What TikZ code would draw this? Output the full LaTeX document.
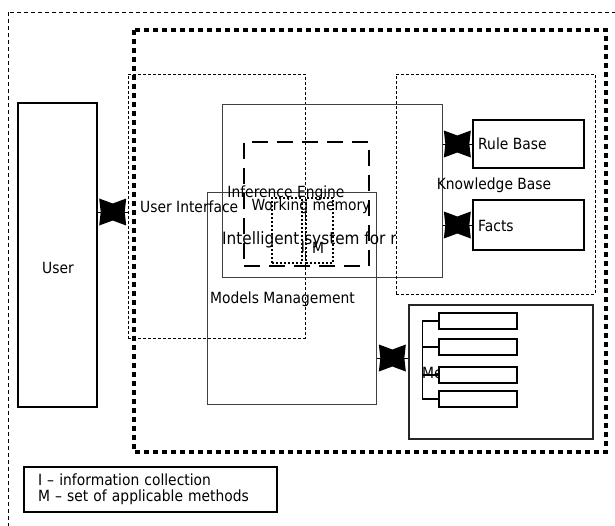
\documentclass[tikz,border=0pt]{standalone}
\usepackage{fontspec}
\setmainfont[FakeStretch=0.9]{DejaVu Sans}
\usetikzlibrary{calc}

\tikzstyle{outer} = [draw, line width=0.6pt, dash pattern=on 4pt off 3pt]
\tikzstyle{system} = [draw, line width=3.5pt, dash pattern=on 5pt off 4pt]
\tikzstyle{part} = [draw, line width=0.8pt, dash pattern=on 3pt off 2pt]
\tikzstyle{engine} = [draw=black!75, line width=1pt]
\tikzstyle{store} = [draw, line width=1.6pt]
\tikzstyle{memory} = [draw, line width=1.8pt, dash pattern=on 16pt off 9pt]
\tikzstyle{cell} = [draw, line width=1.8pt, dash pattern=on 2pt off 2pt]
\tikzstyle{slot} = [draw, line width=1.6pt, fill=white, minimum width=78, minimum height=16]
\tikzstyle{link} = [draw, line width=0.8pt]
\tikzstyle{bowtie} = [minimum width=27, minimum height=27, path picture={
  \fill (path picture bounding box.north west) -- ([yshift=-5pt]path picture bounding box.north)
    -- (path picture bounding box.north east) -- ([xshift=-1.5pt]path picture bounding box.east)
    -- (path picture bounding box.south east) -- ([yshift=5pt]path picture bounding box.south)
    -- (path picture bounding box.south west) -- ([xshift=1.5pt]path picture bounding box.west) -- cycle;}]

\begin{document}
\begin{tikzpicture}[x=1pt,y=-1pt,inner sep=0pt,font=\fontsize{15.4}{16}\selectfont]
		\useasboundingbox (0,0) rectangle (615,525);
		\fill[white] (0,0) rectangle (615,525);
		
		%frames
		\draw[outer] (8,12) rectangle (640,545);
		\draw[system] (134,30) rectangle (606,452);
		
		%boxes
		\node[store, minimum width=79, minimum height=304](user) at (57.5,255) {};
		\node[part, minimum width=177, minimum height=264](ui) at (216.5,206) {};
		\node[engine, minimum width=220, minimum height=173](ie) at (332,190.5) {};
		\node[part, minimum width=199, minimum height=220](kb) at (495.5,184) {};
		\node[store, minimum width=111, minimum height=48](rules) at (528.5,144) {};
		\node[store, minimum width=111, minimum height=50](facts) at (528.5,225) {};
		\node[memory, minimum width=125, minimum height=124](wm) at (306.5,204) {};
		\node[cell, minimum width=30, minimum height=65](info) at (287,230.5) {};
		\node[cell, minimum width=27, minimum height=65](meth) at (319.5,230.5) {};
		\node[engine, minimum width=169, minimum height=212](mm) at (291.5,298) {};
		\node[store, draw=black!85, minimum width=184, minimum height=134](methods) at (501,372) {};
		
		%labels
		\node(userlab) at (58,268) {User};
		\node[anchor=west](uilab) at (140,207) {User Interface};
		\node(ielab) at (286,193) {Inference Engine};
		\node(wmlab) at (311,206) {Working memory};
		\node(kblab) at (494,185) {Knowledge Base};
		\node[anchor=west](ruleslab) at (478,144) {Rule Base};
		\node[anchor=west](factslab) at (478,226) {Facts};
		\node[anchor=west](mmlab) at (210,299) {Models Management};
		\node[anchor=west](methlab) at (422,373) {Methods};
		\node(infolab) at (303,247) {I};
		\node(methodlab) at (318,248) {M};
		\begin{scope}
		\clip (222,225) rectangle (395,258);
		\node[anchor=west, font=\fontsize{17}{19}\selectfont](title) at (222,240) {Intelligent system for r};
		\end{scope}
		
		%method slots
		\foreach \y [count=\i] in {321,347,375,399}
			\node[slot](slot\i) at (478,\y) {};
		\coordinate (trunk) at ($(slot1.west)+(-16,0)$);
		\draw[link, line width=1.2pt] (slot1.west) -- (trunk) |- (slot4.west);
		\draw[link, line width=1.2pt] (slot2.west) -- (slot2.west -| trunk);
		\draw[link, line width=1.2pt] (slot3.west) -- (slot3.west -| trunk);
		
		%connectors
		\draw[link] ([yshift=-6pt]ui.west) -- node[bowtie]{} ([yshift=-6pt]ui.west -| user.east);
		\draw[link] (ie.east |- rules.west) -- node[bowtie]{} (rules.west);
		\draw[link] (ie.east |- facts.west) -- node[bowtie]{} (facts.west);
		\draw[link] ([yshift=14pt]methods.west) -- node[bowtie]{} ([yshift=14pt]methods.west -| mm.east);
		
		%legend
		\node[draw, line width=1.2pt, minimum width=253, minimum height=45, text width=225, align=left](legend) at (150.5,489.5)
			{I -- information collection\\M -- set of applicable methods};
		\end{tikzpicture}
\end{document}
